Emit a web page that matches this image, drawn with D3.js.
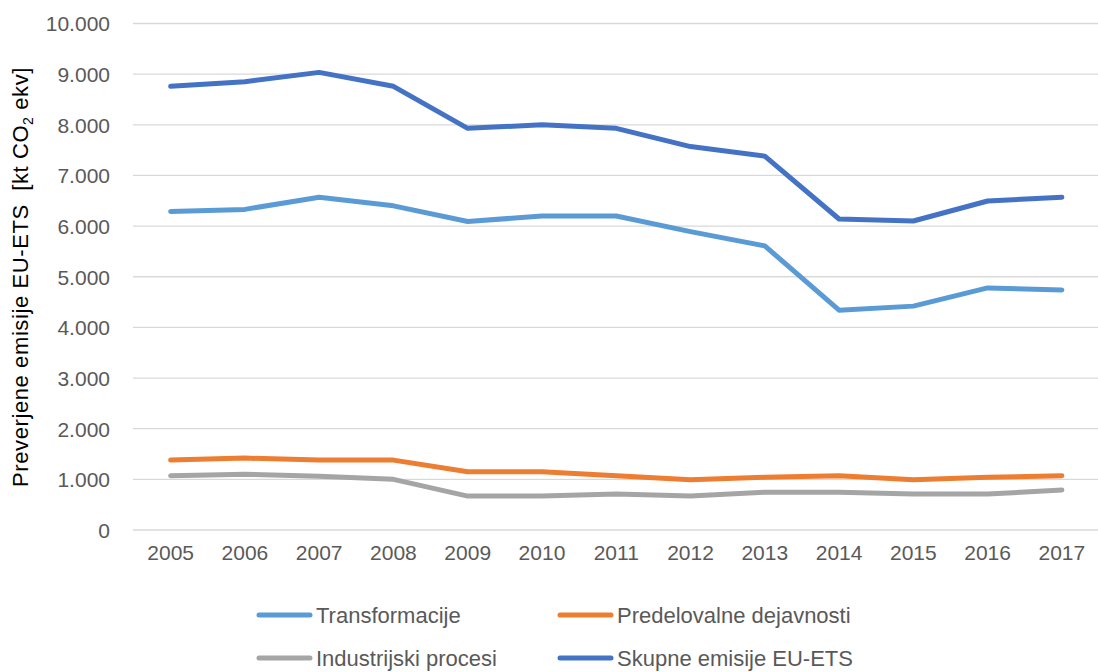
<!DOCTYPE html>
<html><head><meta charset="utf-8">
<script src="https://cdn.jsdelivr.net/npm/d3@7"></script>
<style>body{margin:0;background:#fff}svg{display:block}text{font-family:"Liberation Sans",Arial,sans-serif}</style>
</head><body>
<svg id="c" width="1098" height="672"></svg>
<script>
const years = ["2005","2006","2007","2008","2009","2010","2011","2012","2013","2014","2015","2016","2017"];
const seriesNames = ["Transformacije","Predelovalne dejavnosti","Industrijski procesi","Skupne emisije EU-ETS"];
const transformacije = [6290,6330,6570,6400,6090,6200,6200,5890,5610,4340,4420,4780,4740];
const predelovalne = [1380,1420,1380,1380,1150,1150,1070,990,1040,1070,990,1040,1070];
const industrijski = [1070,1100,1060,1000,670,670,710,670,745,745,710,710,790];
const skupne = [8760,8850,9035,8760,7930,8000,7930,7570,7380,6140,6100,6495,6570];
const yTicks = [0,1000,2000,3000,4000,5000,6000,7000,8000,9000,10000];
const colors = ["#5B9BD5","#ED7D31","#A5A5A5","#4472C4"];

const svg = d3.select("#c");
const x = d3.scaleBand().domain(years).range([133.5, 1099]);
const y = d3.scaleLinear().domain([0, 10000]).range([530, 23.5]);
const fmt = v => v === 0 ? "0" : d3.format(",")(v).replace(/,/g, ".");

// gridlines
svg.append("g").selectAll("line").data(yTicks).join("line")
  .attr("x1", 133).attr("x2", 1098)
  .attr("y1", d => y(d)).attr("y2", d => y(d))
  .attr("stroke", "#d9d9d9").attr("stroke-width", 1.3);

// y axis labels
const yAxis = d3.axisLeft(y).tickValues(yTicks).tickFormat(fmt).tickSize(0).tickPadding(0);
const gy = svg.append("g").attr("transform", "translate(110,0)").call(yAxis);
gy.select(".domain").remove();
gy.selectAll("text").attr("fill", "#595959").style("font-size", "21px").attr("dy", "0.35em");

// x axis labels
const xAxis = d3.axisBottom(x).tickSize(0).tickPadding(0);
const gx = svg.append("g").attr("transform", "translate(0,543)").call(xAxis);
gx.select(".domain").remove();
gx.selectAll("text").attr("fill", "#595959").style("font-size", "21px").attr("dy", "0.82em");

// lines
const data = [transformacije, predelovalne, industrijski, skupne];
const line = d3.line().x((d, i) => x(years[i]) + x.bandwidth() / 2).y(d => y(d));
svg.append("g").selectAll("path").data(data).join("path")
  .attr("d", line).attr("fill", "none")
  .attr("stroke", (d, i) => colors[i]).attr("stroke-width", 5)
  .attr("stroke-linejoin", "round").attr("stroke-linecap", "round");

// y title
const yt = svg.append("text").attr("transform", "translate(28,277) rotate(-90)")
  .attr("text-anchor", "middle").attr("fill", "#000").style("font-size", "22px")
  .style("letter-spacing", "0.6px").style("white-space", "pre");
yt.append("tspan").text("Preverjene emisije EU-ETS  [kt CO");
yt.append("tspan").attr("dy", 5).style("font-size", "14px").text("2");
yt.append("tspan").attr("dy", -5).text(" ekv]");

// legend
const legendPos = [[257, 615], [558, 615], [257, 658], [558, 658]];
const lg = svg.append("g").selectAll("g").data(seriesNames).join("g")
  .attr("transform", (d, i) => `translate(${legendPos[i][0]},${legendPos[i][1]})`);
lg.append("line").attr("x1", 2).attr("x2", 53).attr("y1", 0).attr("y2", 0)
  .attr("stroke", (d, i) => colors[i]).attr("stroke-width", 5).attr("stroke-linecap", "round");
lg.append("text").attr("x", 59).attr("dy", "0.35em").attr("fill", "#595959")
  .style("font-size", "22px").text(d => d);
</script>
</body></html>
